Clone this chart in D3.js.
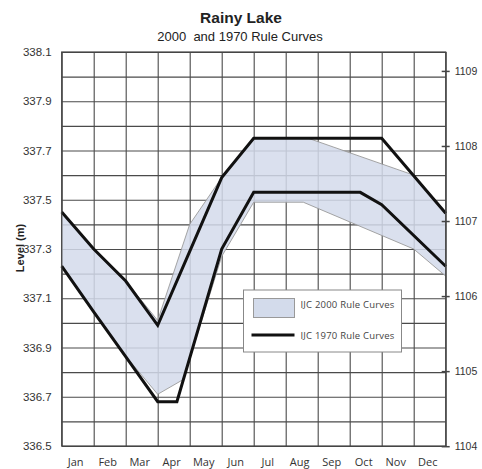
<!DOCTYPE html>
<html>
<head>
<meta charset="utf-8">
<script src="https://cdn.jsdelivr.net/npm/d3@7"></script>
<style>
  body { margin: 0; background: #fff; }
  svg { display: block; }
  .grid line { stroke: #4a4a4a; stroke-width: 1.1; }
  .grid path { display: none; }
</style>
</head>
<body>
<div id="chart"></div>
<script>
// month index: 0 = Jan 1, 12 = Dec 31
const months = ['Jan', 'Feb', 'Mar', 'Apr', 'May', 'Jun', 'Jul', 'Aug', 'Sep', 'Oct', 'Nov', 'Dec'];

const band2000Upper = [
  [0, 337.45], [1, 337.30], [2, 337.17], [3, 337.01], [4, 337.40],
  [5, 337.59], [6, 337.75], [7.7, 337.75], [11, 337.60], [12, 337.45]
];
const band2000Lower = [
  [0, 337.23], [1, 337.045], [2, 336.865], [3, 336.71], [3.8, 336.77],
  [5, 337.27], [6, 337.49], [7.55, 337.49], [11, 337.30], [12, 337.19]
];
const rule1970Upper = [
  [0, 337.45], [1, 337.30], [2, 337.17], [3, 336.99], [5, 337.59],
  [6, 337.75], [10, 337.75], [12, 337.445]
];
const rule1970Lower = [
  [0, 337.23], [1, 337.045], [2, 336.863], [3, 336.68], [3.6, 336.68],
  [5, 337.30], [6, 337.53], [9.33, 337.53], [10, 337.48], [12, 337.23]
];

const leftTicks = [336.5, 336.7, 336.9, 337.1, 337.3, 337.5, 337.7, 337.9, 338.1];
const rightTicks = [1104, 1105, 1106, 1107, 1108, 1109];
const FT = 0.3048;

const width = 482, height = 469;
const plotLeft = 61.7, plotRight = 445.7, plotTop = 52, plotBottom = 446;

const svg = d3.select('#chart').append('svg')
  .attr('width', width)
  .attr('height', height);

const x = d3.scaleLinear().domain([0, 12]).range([plotLeft, plotRight]);
const y = d3.scaleLinear().domain([336.5, 338.1]).range([plotBottom, plotTop]);
const yFt = d3.scaleLinear().domain([336.5 / FT, 338.1 / FT]).range([plotBottom, plotTop]);

// grid
svg.append('g')
  .attr('class', 'grid')
  .attr('transform', `translate(${plotLeft},0)`)
  .call(d3.axisLeft(y).tickValues(d3.range(17).map(i => 336.5 + i * 0.1)).tickSize(-(plotRight - plotLeft)).tickFormat(''));

svg.append('g')
  .attr('class', 'grid')
  .attr('transform', `translate(0,${plotBottom})`)
  .call(d3.axisBottom(x).tickValues(d3.range(13)).tickSize(-(plotBottom - plotTop)).tickFormat(''));

// 2000 band
const line = d3.line().x(d => x(d[0])).y(d => y(d[1]));
const bandPts = band2000Upper.concat(band2000Lower.slice().reverse());
svg.append('path')
  .attr('d', line(bandPts) + 'Z')
  .attr('fill', '#d3dbeb')
  .attr('fill-opacity', 0.85)
  .attr('stroke', '#9a9a9a')
  .attr('stroke-width', 0.9);

// 1970 curves
[rule1970Upper, rule1970Lower].forEach(curve => {
  svg.append('path')
    .attr('d', line(curve))
    .attr('fill', 'none')
    .attr('stroke', '#111')
    .attr('stroke-width', 3)
    .attr('stroke-linejoin', 'miter');
});

// frame
svg.append('rect')
  .attr('x', plotLeft).attr('y', plotTop)
  .attr('width', plotRight - plotLeft).attr('height', plotBottom - plotTop)
  .attr('fill', 'none')
  .attr('stroke', '#444')
  .attr('stroke-width', 1.2);

// left axis labels
svg.append('g')
  .attr('transform', `translate(${plotLeft},0)`)
  .call(d3.axisLeft(y).tickValues(leftTicks).tickSize(0).tickPadding(10).tickFormat(d3.format('.1f')))
  .call(g => g.select('.domain').remove())
  .call(g => g.selectAll('text')
    .attr('font-family', 'Liberation Sans, Arial, sans-serif')
    .attr('font-size', 11.5)
    .attr('fill', '#333'));

// right axis (feet)
svg.append('g')
  .attr('transform', `translate(${plotRight - 4},0)`)
  .call(d3.axisRight(yFt).tickValues(rightTicks).tickSize(8).tickPadding(5).tickFormat(d3.format('d')))
  .call(g => g.select('.domain').remove())
  .call(g => g.selectAll('line').attr('stroke', '#444').attr('stroke-width', 1.5))
  .call(g => g.selectAll('text')
    .attr('font-family', 'Liberation Sans, Arial, sans-serif')
    .attr('font-size', 10.5)
    .attr('fill', '#333'));

// month labels
svg.append('g')
  .selectAll('text')
  .data(months)
  .join('text')
  .attr('x', (d, i) => x(i + 0.5) - 2)
  .attr('y', 466)
  .attr('text-anchor', 'middle')
  .attr('font-family', 'Open Sans, sans-serif')
  .attr('font-size', 11)
  .attr('fill', '#333')
  .text(d => d);

// titles
svg.append('text')
  .attr('x', 241).attr('y', 23)
  .attr('text-anchor', 'middle')
  .attr('font-family', 'Liberation Sans, Arial, sans-serif')
  .attr('font-weight', 'bold')
  .attr('font-size', 15.5)
  .attr('fill', '#222')
  .text('Rainy Lake');

svg.append('text')
  .attr('x', 240).attr('y', 41)
  .attr('text-anchor', 'middle')
  .attr('font-family', 'Liberation Sans, Arial, sans-serif')
  .attr('font-size', 13)
  .attr('fill', '#222')
  .attr('xml:space', 'preserve')
  .text('2000  and 1970 Rule Curves');

svg.append('text')
  .attr('transform', 'translate(24,248) rotate(-90)')
  .attr('text-anchor', 'middle')
  .attr('font-family', 'Liberation Sans, Arial, sans-serif')
  .attr('font-weight', 'bold')
  .attr('font-size', 11)
  .attr('fill', '#222')
  .text('Level (m)');

// legend
const legend = svg.append('g').attr('transform', 'translate(243.5,290)');
legend.append('rect')
  .attr('width', 158).attr('height', 62)
  .attr('fill', '#fff')
  .attr('stroke', '#888')
  .attr('stroke-width', 1);
legend.append('rect')
  .attr('x', 10).attr('y', 8.5)
  .attr('width', 41).attr('height', 19)
  .attr('fill', '#d3dbeb')
  .attr('stroke', '#999')
  .attr('stroke-width', 1);
legend.append('line')
  .attr('x1', 8).attr('x2', 51)
  .attr('y1', 45).attr('y2', 45)
  .attr('stroke', '#111')
  .attr('stroke-width', 3);
legend.selectAll('text.lab')
  .data(['IJC 2000 Rule Curves', 'IJC 1970 Rule Curves'])
  .join('text')
  .attr('class', 'lab')
  .attr('x', 57)
  .attr('y', (d, i) => i === 0 ? 15 : 46)
  .attr('dy', '0.35em')
  .attr('font-family', 'Open Sans, sans-serif')
  .attr('font-size', 9.5)
  .attr('letter-spacing', 0.2)
  .attr('fill', '#444')
  .text(d => d);
</script>
</body>
</html>
